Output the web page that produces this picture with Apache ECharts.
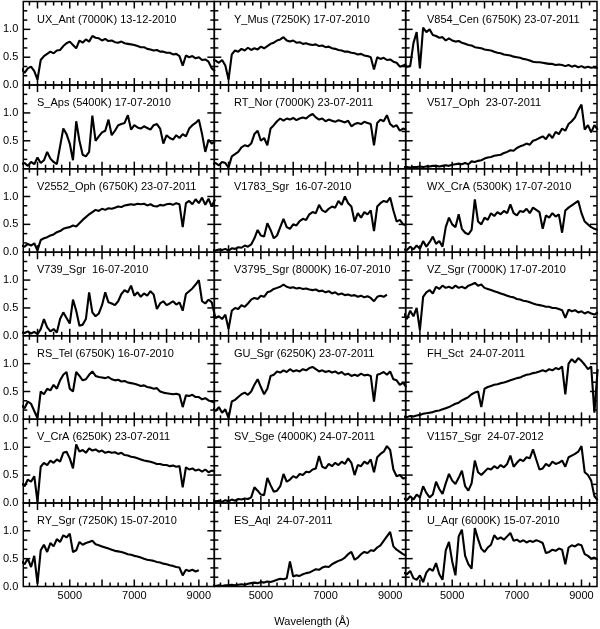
<!DOCTYPE html>
<html><head><meta charset="utf-8">
<script src="https://cdn.jsdelivr.net/npm/echarts@6/dist/echarts.min.js"></script>
<style>html,body{margin:0;padding:0;background:#fff}#c{width:600px;height:629px}</style>
</head><body><div id="c"></div>
<script>
const wavelength = [3500,3600,3700,3800,3900,4000,4100,4200,4300,4400,4500,4600,4700,4800,4900,5000,5100,5200,5300,5400,5500,5600,5700,5800,5900,6000,6100,6200,6300,6400,6500,6600,6700,6800,6900,7000,7100,7200,7300,7400,7500,7600,7700,7800,7900,8000,8100,8200,8300,8400,8500,8600,8700,8800,8900,9000,9100,9200,9300,9400,9500];

const titles = ['UX_Ant (7000K) 13-12-2010','Y_Mus (7250K) 17-07-2010','V854_Cen (6750K) 23-07-2011',
'S_Aps (5400K) 17-07-2010','RT_Nor (7000K) 23-07-2011','V517_Oph  23-07-2011',
'V2552_Oph (6750K) 23-07-2011','V1783_Sgr  16-07-2010','WX_CrA (5300K) 17-07-2010',
'V739_Sgr  16-07-2010','V3795_Sgr (8000K) 16-07-2010','VZ_Sgr (7000K) 17-07-2010',
'RS_Tel (6750K) 16-07-2010','GU_Sgr (6250K) 23-07-2011','FH_Sct  24-07-2011',
'V_CrA (6250K) 23-07-2011','SV_Sge (4000K) 24-07-2011','V1157_Sgr  24-07-2012',
'RY_Sgr (7250K) 15-07-2010','ES_Aql  24-07-2011','U_Aqr (6000K) 15-07-2010'];

const ux_ant = [0.30,0.22,0.30,0.33,0.25,0.10,0.45,0.52,0.56,0.60,0.57,0.62,0.63,0.70,0.75,0.78,0.72,0.66,0.80,0.76,0.82,0.78,0.88,0.85,0.84,0.80,0.83,0.79,0.80,0.77,0.76,0.78,0.75,0.74,0.73,0.72,0.70,0.68,0.68,0.65,0.64,0.62,0.63,0.60,0.60,0.58,0.58,0.55,0.56,0.52,0.35,0.53,0.50,0.52,0.48,0.50,0.45,0.46,0.42,0.30,0.25];
const y_mus = [0.45,0.44,0.40,0.45,0.35,0.10,0.55,0.62,0.60,0.65,0.62,0.67,0.63,0.66,0.64,0.69,0.66,0.70,0.74,0.76,0.80,0.82,0.86,0.80,0.78,0.80,0.76,0.77,0.74,0.75,0.73,0.72,0.73,0.70,0.71,0.68,0.69,0.66,0.65,0.63,0.62,0.60,0.60,0.58,0.57,0.55,0.56,0.53,0.52,0.50,0.28,0.50,0.47,0.49,0.45,0.46,0.42,0.40,0.33,0.35,0.38];
const v854_cen = [0.35,0.33,0.34,0.75,0.95,0.30,1.03,0.95,1.00,0.90,0.88,0.85,0.86,0.80,0.84,0.80,0.78,0.79,0.76,0.74,0.72,0.71,0.68,0.67,0.66,0.64,0.63,0.62,0.60,0.58,0.57,0.55,0.54,0.53,0.51,0.50,0.49,0.47,0.46,0.44,0.42,0.41,0.41,0.40,0.39,0.38,0.38,0.36,0.37,0.36,0.34,0.36,0.33,0.35,0.32,0.34,0.31,0.33,0.31,0.32,0.30];
const s_aps = [0.08,0.10,0.05,0.12,0.08,0.20,0.10,0.15,0.30,0.18,0.12,0.08,0.40,0.72,0.62,0.45,0.15,0.85,0.50,0.25,0.22,0.30,0.95,0.50,0.58,0.65,0.68,0.88,0.60,0.68,0.78,0.80,0.82,0.96,0.70,0.78,0.74,0.72,0.76,0.73,0.70,0.78,0.80,0.72,0.45,0.60,0.55,0.52,0.60,0.55,0.62,0.58,0.72,0.78,0.82,0.88,0.62,0.30,0.52,0.45,0.48];
const rt_nor = [0.08,0.10,0.06,0.12,0.10,0.02,0.22,0.26,0.30,0.38,0.42,0.40,0.45,0.62,0.68,0.50,0.55,0.42,0.72,0.78,0.85,0.90,0.86,0.90,0.88,0.91,0.87,0.90,0.92,0.90,0.95,0.98,0.92,0.88,0.90,0.85,0.88,0.86,0.84,0.87,0.85,0.83,0.86,0.76,0.80,0.82,0.80,0.84,0.82,0.80,0.42,0.82,0.88,0.85,0.96,0.80,0.75,0.78,0.68,0.72,0.70];
const v517_oph = [0.03,0.03,0.02,0.03,0.03,0.04,0.03,0.04,0.04,0.05,0.05,0.04,0.05,0.06,0.05,0.07,0.08,0.09,0.08,0.10,0.08,0.13,0.12,0.14,0.15,0.18,0.20,0.21,0.23,0.24,0.25,0.28,0.30,0.33,0.32,0.37,0.40,0.42,0.45,0.43,0.50,0.52,0.55,0.58,0.53,0.62,0.55,0.66,0.62,0.72,0.68,0.80,0.85,0.92,1.05,1.15,0.70,0.78,0.65,0.78,0.70];
const v2552_oph = [0.12,0.10,0.15,0.12,0.16,0.03,0.22,0.25,0.27,0.30,0.32,0.36,0.38,0.42,0.44,0.45,0.48,0.46,0.52,0.58,0.63,0.68,0.72,0.76,0.74,0.78,0.76,0.79,0.78,0.80,0.82,0.81,0.84,0.85,0.86,0.85,0.87,0.86,0.87,0.84,0.86,0.83,0.82,0.85,0.84,0.86,0.87,0.85,0.88,0.86,0.45,0.88,0.92,0.86,0.95,0.88,0.98,0.85,0.96,0.82,0.95];
const v1783_sgr = [0.04,0.03,0.05,0.04,0.06,0.03,0.07,0.06,0.09,0.08,0.12,0.10,0.14,0.25,0.40,0.30,0.28,0.52,0.40,0.25,0.30,0.45,0.60,0.45,0.42,0.50,0.48,0.56,0.60,0.58,0.68,0.72,0.70,0.85,0.75,0.72,0.78,0.82,0.80,0.92,0.85,1.00,0.88,0.82,0.55,0.70,0.62,0.72,0.68,0.75,0.38,0.82,0.88,0.92,0.90,0.98,0.75,0.55,0.58,0.50,0.48];
const wx_cra = [0.05,0.04,0.10,0.05,0.12,0.06,0.20,0.10,0.18,0.28,0.15,0.20,0.10,0.45,0.62,0.50,0.45,0.68,0.42,0.35,0.32,0.40,0.95,0.55,0.50,0.62,0.58,0.70,0.65,0.72,0.68,0.74,0.70,0.86,0.70,0.66,0.74,0.72,0.78,0.70,0.80,0.76,0.72,0.42,0.66,0.62,0.70,0.64,0.68,0.35,0.75,0.80,0.84,0.88,0.92,0.70,0.55,0.50,0.45,0.42,0.40];
const v739_sgr = [0.06,0.05,0.08,0.04,0.07,0.03,0.12,0.30,0.15,0.08,0.12,0.06,0.30,0.42,0.32,0.22,0.65,0.45,0.18,0.20,0.30,0.78,0.42,0.35,0.40,0.55,0.78,0.60,0.58,0.55,0.62,0.75,0.82,0.78,0.90,0.72,0.78,0.70,0.76,0.72,0.80,0.74,0.48,0.58,0.62,0.55,0.58,0.62,0.56,0.60,0.45,0.75,0.80,0.85,0.92,1.00,0.62,0.58,0.65,0.60,0.35];
const v3795_sgr = [0.38,0.32,0.35,0.30,0.38,0.12,0.45,0.50,0.48,0.55,0.52,0.58,0.65,0.68,0.66,0.72,0.70,0.78,0.80,0.84,0.86,0.88,0.92,0.88,0.86,0.87,0.85,0.86,0.84,0.85,0.83,0.82,0.83,0.80,0.81,0.78,0.80,0.76,0.78,0.74,0.76,0.73,0.74,0.72,0.73,0.70,0.72,0.69,0.71,0.68,0.62,0.70,0.72,0.70,0.74,null,null,null,null,null,null];
const vz_sgr = [0.40,0.30,0.45,0.35,0.50,0.10,0.70,0.78,0.82,0.76,0.88,0.84,0.90,0.86,0.88,0.85,0.90,0.86,0.88,0.85,0.90,0.92,0.95,0.90,0.92,0.86,0.84,0.82,0.80,0.78,0.76,0.74,0.72,0.70,0.69,0.66,0.65,0.63,0.62,0.60,0.58,0.56,0.55,0.54,0.52,0.52,0.50,0.50,0.48,0.46,0.32,0.47,0.44,0.46,0.42,0.44,0.40,0.43,0.40,0.38,0.42];
const rs_tel = [0.25,0.20,0.32,0.28,0.15,0.02,0.50,0.45,0.55,0.52,0.62,0.55,0.70,0.80,0.85,0.55,0.50,0.85,0.78,0.70,0.72,0.80,0.86,0.78,0.76,0.75,0.74,0.76,0.72,0.70,0.71,0.68,0.69,0.66,0.65,0.64,0.62,0.60,0.61,0.58,0.57,0.55,0.56,0.50,0.48,0.47,0.46,0.45,0.46,0.44,0.22,0.43,0.42,0.44,0.40,0.40,0.36,0.38,0.34,0.32,0.30];
const gu_sgr = [0.20,0.15,0.22,0.12,0.18,0.02,0.32,0.35,0.40,0.45,0.48,0.44,0.50,0.62,0.72,0.58,0.45,0.55,0.78,0.80,0.86,0.84,0.88,0.85,0.90,0.86,0.88,0.86,0.90,0.88,0.92,0.94,0.90,0.86,0.88,0.85,0.87,0.84,0.86,0.82,0.85,0.80,0.82,0.78,0.80,0.78,0.82,0.79,0.80,0.78,0.32,0.80,0.82,0.85,0.80,0.86,0.72,0.70,0.62,0.66,0.58];
const fh_sct = [0.05,0.04,0.06,0.05,0.07,0.08,0.10,0.11,0.12,0.13,0.15,0.16,0.18,0.20,0.22,0.25,0.28,0.30,0.34,0.37,0.40,0.45,0.48,0.50,0.22,0.55,0.58,0.60,0.62,0.63,0.65,0.66,0.68,0.70,0.72,0.74,0.75,0.78,0.80,0.81,0.83,0.84,0.86,0.88,0.86,0.90,0.88,0.92,0.90,0.95,0.45,1.00,1.08,1.02,1.10,1.05,0.98,0.90,0.95,0.12,0.90];
const v_cra = [0.35,0.30,0.42,0.38,0.48,0.02,0.65,0.72,0.68,0.76,0.72,0.78,0.74,0.90,0.92,0.80,0.62,1.05,0.92,0.95,0.90,0.98,0.94,0.96,0.92,0.94,0.90,0.92,0.90,0.91,0.88,0.90,0.86,0.85,0.83,0.82,0.80,0.78,0.76,0.75,0.74,0.72,0.70,0.70,0.68,0.68,0.66,0.67,0.65,0.66,0.28,0.64,0.60,0.62,0.58,0.60,0.56,0.60,0.55,0.58,0.56];
const sv_sge = [0.05,0.03,0.04,0.02,0.05,0.03,0.06,0.04,0.07,0.06,0.08,0.07,0.10,0.28,0.22,0.15,0.14,0.45,0.32,0.20,0.22,0.30,0.52,0.38,0.42,0.48,0.45,0.52,0.50,0.56,0.55,0.60,0.62,0.84,0.65,0.62,0.70,0.66,0.72,0.68,0.74,0.70,0.80,0.72,0.50,0.68,0.66,0.74,0.70,0.78,0.55,0.82,0.88,0.92,1.02,0.95,0.60,0.48,0.50,0.44,0.45];
const v1157_sgr = [0.08,0.05,0.12,0.06,0.15,0.10,0.30,0.18,0.10,0.15,0.38,0.25,0.16,0.35,0.52,0.40,0.34,0.45,0.58,0.30,0.22,0.35,0.76,0.55,0.50,0.56,0.62,0.60,0.66,0.62,0.68,0.64,0.70,0.85,0.65,0.72,0.78,0.75,0.82,0.80,0.96,0.78,0.60,0.62,0.70,0.66,0.74,0.70,0.72,0.76,0.65,0.82,0.85,0.88,0.92,1.02,0.55,0.50,0.40,0.12,0.05];
const ry_sgr = [0.45,0.40,0.50,0.35,0.55,0.05,0.65,0.75,0.62,0.78,0.72,0.85,0.80,0.92,0.88,0.95,0.62,0.65,0.80,0.75,0.78,0.80,0.82,0.76,0.74,0.72,0.70,0.68,0.66,0.64,0.63,0.62,0.60,0.58,0.57,0.55,0.54,0.52,0.50,0.48,0.47,0.46,0.44,0.43,0.41,0.40,0.38,0.37,0.35,0.34,0.20,0.30,0.28,0.30,0.27,0.29,null,null,null,null,null];
const es_aql = [0.02,0.01,0.02,0.01,0.02,0.02,0.03,0.02,0.03,0.04,0.03,0.05,0.06,0.07,0.06,0.08,0.07,0.09,0.08,0.10,0.12,0.14,0.13,0.15,0.45,0.18,0.20,0.19,0.22,0.24,0.25,0.28,0.31,0.30,0.34,0.36,0.35,0.40,0.43,0.46,0.48,0.52,0.58,0.62,0.48,0.52,0.58,0.62,0.60,0.65,0.64,0.70,0.74,0.82,0.90,0.98,0.72,0.66,0.62,0.58,0.55];
const u_aqr = [0.25,0.22,0.28,0.15,0.12,0.20,0.08,0.25,0.32,0.28,0.42,0.22,0.12,0.65,0.80,0.45,0.20,0.90,1.02,0.55,0.40,0.32,1.05,0.85,0.68,0.62,0.70,0.75,0.92,0.85,0.88,0.84,0.90,0.96,0.82,0.84,0.80,0.83,0.79,0.82,0.80,0.83,0.81,0.78,0.60,0.62,0.66,0.64,0.68,0.66,0.40,0.70,0.74,0.72,0.76,0.74,0.58,0.55,0.50,0.52,0.48];

const fluxes = [ux_ant,y_mus,v854_cen,s_aps,rt_nor,v517_oph,v2552_oph,v1783_sgr,wx_cra,v739_sgr,v3795_sgr,vz_sgr,rs_tel,gu_sgr,fh_sct,v_cra,sv_sge,v1157_sgr,ry_sgr,es_aql,u_aqr];

const xMajor = [4000,5000,6000,7000,8000,9000];
const xLabels = [5000,7000,9000];
const yMajor = [0.5,1.0];
const yLabels = [0,0.5,1.0];
const yMinor = [0.1667,0.3333,0.6667,0.8333,1.1667,1.3333];
const xMinor = [];
for (let v = 3750; v <= 9250; v += 250) if (v % 1000 !== 0) xMinor.push(v);
// tick table: [value, kind] kind 0 = x major, 1 = x minor, 2 = y major, 3 = y minor
const tickTable = [].concat(xMajor.map(v=>[v,0]), xMinor.map(v=>[v,1]), yMajor.map(v=>[v,2]), yMinor.map(v=>[v,3]));

const FONT = 'Liberation Sans';
const L = 23, R = 597, T = 1.5, B = 586.5;
const colW = (R - L) / 3, rowH = (B - T) / 7;
const titleX = [37, 234, 427];
const XMIN = 3560, XMAX = 9480;
const MAJ = 7, MIN = 4;

const grids = [], xAxes = [], yAxes = [], series = [], graphics = [];

function renderTick(params, api) {
  const cs = params.coordSys;
  const v = api.value(0), kind = api.value(1);
  const len = (kind === 0 || kind === 2) ? MAJ : MIN;
  const st = {stroke:'#000', lineWidth:1.5};
  if (kind < 2) {
    const x = api.coord([v, 0])[0];
    const yb = cs.y + cs.height, yt = cs.y;
    return {type:'group', children:[
      {type:'line', shape:{x1:x, y1:yb, x2:x, y2:yb-len}, style:st},
      {type:'line', shape:{x1:x, y1:yt, x2:x, y2:yt+len}, style:st}]};
  } else {
    const y = api.coord([XMIN, v])[1];
    const xl = cs.x, xr = cs.x + cs.width;
    return {type:'group', children:[
      {type:'line', shape:{x1:xl, y1:y, x2:xl+len, y2:y}, style:st},
      {type:'line', shape:{x1:xr, y1:y, x2:xr-len, y2:y}, style:st}]};
  }
}

fluxes.forEach((flux, i) => {
  const r = Math.floor(i / 3), c = i % 3;
  grids.push({left: L + c*colW, top: T + r*rowH, width: colW, height: rowH, show:true,
    borderColor:'#000', borderWidth:1.5, backgroundColor:'transparent', containLabel:false});
  const bottomRow = r === 6, leftCol = c === 0;
  xAxes.push({type:'value', gridIndex:i, min:XMIN, max:XMAX, position:'bottom', splitLine:{show:false},
    axisLine:{show:false}, axisTick:{show:false},
    axisLabel:{show:bottomRow, customValues:xLabels, formatter:v=>String(v), fontSize:11, fontFamily:FONT, color:'#000', margin:4}});
  yAxes.push({type:'value', gridIndex:i, min:0, max:1.5, position:'left', splitLine:{show:false},
    axisLine:{show:false}, axisTick:{show:false},
    axisLabel:{show:leftCol, customValues:yLabels, formatter:v=>v.toFixed(1), fontSize:11, fontFamily:FONT, color:'#000', margin:5}});
  series.push({type:'line', xAxisIndex:i, yAxisIndex:i, data: wavelength.map((w,j)=>[w, flux[j]]),
    showSymbol:false, symbol:'none', connectNulls:false, clip:true, lineStyle:{color:'#000', width:2.1}, silent:true});
  series.push({type:'custom', xAxisIndex:i, yAxisIndex:i, data: tickTable, renderItem: renderTick, clip:false, silent:true, z:5});
  graphics.push({type:'text', x: titleX[c], y: T + r*rowH + 18,
    style:{text: titles[i], fontSize:11, fontFamily:FONT, fill:'#000', verticalAlign:'middle', align:'left'}});
});
graphics.push({type:'text', x: 312, y: 622, style:{text:'Wavelength (Å)', fontSize:11, fontFamily:FONT, fill:'#000', verticalAlign:'middle', align:'center'}});

const chart = echarts.init(document.getElementById('c'), null, {renderer:'canvas'});
chart.setOption({animation:false, backgroundColor:'#fff', grid:grids, xAxis:xAxes, yAxis:yAxes, series:series, graphic:graphics});
</script></body></html>
